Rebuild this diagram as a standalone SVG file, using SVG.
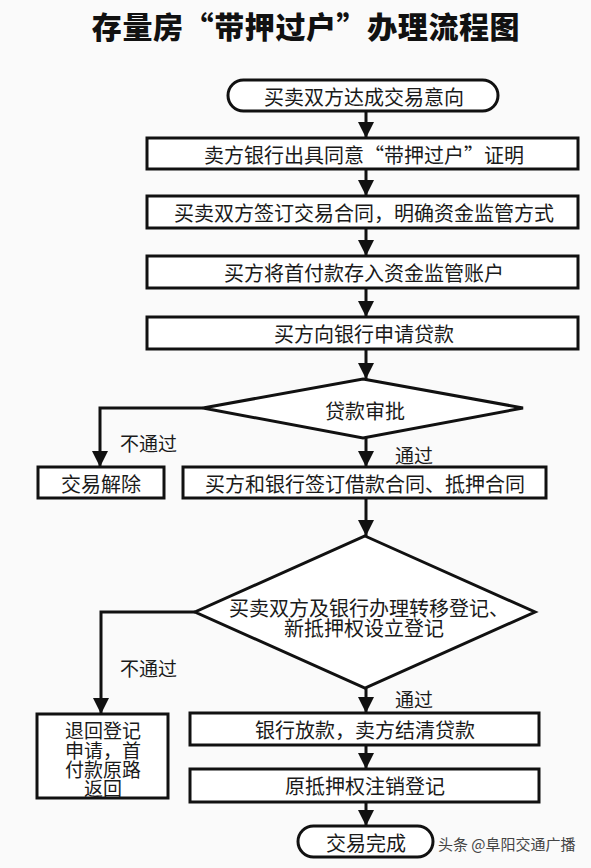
<svg xmlns="http://www.w3.org/2000/svg" width="591" height="868" viewBox="0 0 591 868">
  <style>
    .bg { fill: #fafafa; }
    .box { fill: #ffffff; stroke: #111; stroke-width: 3; }
    .t { font-family: "Noto Sans CJK SC", "Noto Sans", sans-serif; font-size: 20px; fill: #1a1a1a; text-anchor: middle; dominant-baseline: central; }
    .ts { font-family: "Noto Sans CJK SC", "Noto Sans", sans-serif; font-size: 19px; fill: #1a1a1a; text-anchor: middle; dominant-baseline: central; }
    .lbl { font-family: "Noto Sans CJK SC", "Noto Sans", sans-serif; font-size: 19px; fill: #1a1a1a; dominant-baseline: central; }
    .title { font-family: "Noto Sans CJK SC", sans-serif; font-size: 30px; font-weight: 900; fill: #111; text-anchor: middle; dominant-baseline: central; letter-spacing: 0.6px; }
    .wm { font-family: "Noto Sans CJK SC", sans-serif; font-size: 15px; fill: #444; dominant-baseline: central; }
    .conn { fill: none; stroke: #111; stroke-width: 3; marker-end: url(#ah); }
  </style>
  <defs>
    <marker id="ah" markerUnits="userSpaceOnUse" markerWidth="16" markerHeight="17" refX="16" refY="8" orient="auto" viewBox="0 0 16 16">
      <path d="M0,0 L16,8 L0,16 z" fill="#111"/>
    </marker>
  </defs>
  <rect class="bg" x="0" y="0" width="591" height="868"/>

  <text class="title" x="306" y="25">存量房“带押过户”办理流程图</text>

  <g id="connectors">
    <path class="conn" d="M366,111 V138"/>
    <path class="conn" d="M366,169 V196"/>
    <path class="conn" d="M366,228 V256"/>
    <path class="conn" d="M366,288 V317"/>
    <path class="conn" d="M366,349 V379"/>
    <path class="conn" d="M366,438 V467"/>
    <path class="conn" d="M203,408 H100 V467"/>
    <path class="conn" d="M366,498 V536"/>
    <path class="conn" d="M195,612 H101 V714"/>
    <path class="conn" d="M366,688 V713"/>
    <path class="conn" d="M366,745 V769"/>
    <path class="conn" d="M366,802 V826"/>
    <text class="lbl" x="120" y="442">不通过</text>
    <text class="lbl" x="395" y="454">通过</text>
    <text class="lbl" x="120" y="667">不通过</text>
    <text class="lbl" x="395" y="698">通过</text>
  </g>

  <g id="n1">
    <rect class="box" x="228" y="80" width="270" height="31" rx="15.5"/>
    <text class="t" x="364" y="96">买卖双方达成交易意向</text>
  </g>
  <g id="n2">
    <rect class="box" x="147" y="138" width="431" height="31"/>
    <text class="t" x="364" y="154">卖方银行出具同意“带押过户”证明</text>
  </g>
  <g id="n3">
    <rect class="box" x="147" y="196" width="431" height="32"/>
    <text class="t" x="364" y="212">买卖双方签订交易合同，明确资金监管方式</text>
  </g>
  <g id="n4">
    <rect class="box" x="147" y="256" width="431" height="32"/>
    <text class="t" x="364" y="272">买方将首付款存入资金监管账户</text>
  </g>
  <g id="n5">
    <rect class="box" x="147" y="317" width="431" height="32"/>
    <text class="t" x="364" y="333">买方向银行申请贷款</text>
  </g>
  <g id="d1">
    <polygon class="box" points="363,379 523,408 363,438 203,408"/>
    <text class="t" x="365" y="410">贷款审批</text>
  </g>
  <g id="n6">
    <rect class="box" x="38" y="467" width="126" height="31"/>
    <text class="t" x="101" y="483">交易解除</text>
  </g>
  <g id="n7">
    <rect class="box" x="183" y="467" width="363" height="31"/>
    <text class="t" x="365" y="483">买方和银行签订借款合同、抵押合同</text>
  </g>
  <g id="d2">
    <polygon class="box" points="365,536 535,612 365,688 195,612"/>
    <text class="t"><tspan x="369" y="607">买卖双方及银行办理转移登记、</tspan><tspan x="364" y="627">新抵押权设立登记</tspan></text>
  </g>
  <g id="n8">
    <rect class="box" x="37" y="714" width="131" height="84"/>
    <text class="ts"><tspan x="103" y="729">退回登记</tspan><tspan x="103" y="749">申请，首</tspan><tspan x="103" y="768">付款原路</tspan><tspan x="103" y="787">返回</tspan></text>
  </g>
  <g id="n9">
    <rect class="box" x="190" y="713" width="349" height="32"/>
    <text class="t" x="365" y="729">银行放款，卖方结清贷款</text>
  </g>
  <g id="n10">
    <rect class="box" x="190" y="769" width="349" height="33"/>
    <text class="t" x="365" y="785">原抵押权注销登记</text>
  </g>
  <g id="n11">
    <rect class="box" x="298" y="826" width="135" height="31" rx="15.5"/>
    <text class="t" x="366" y="842">交易完成</text>
  </g>

  <text class="wm" x="438" y="843">头条 @阜阳交通广播</text>
</svg>
